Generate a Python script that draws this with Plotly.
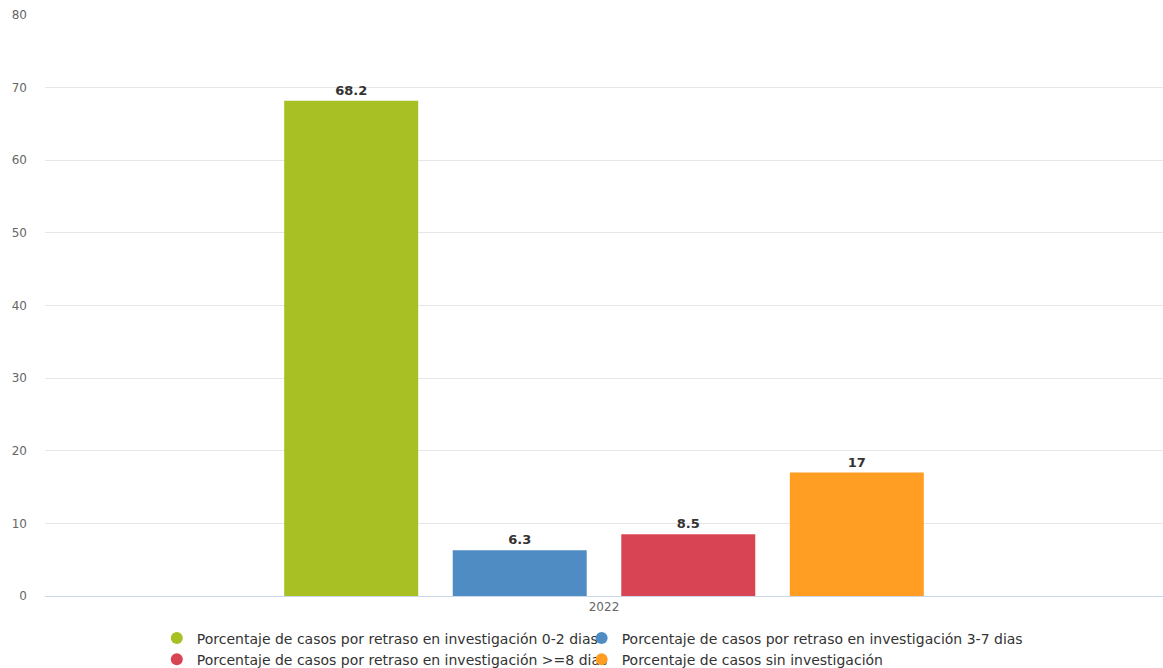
import plotly.graph_objects as go

# Data
categories = ["2022"]
series_names = [
    "Porcentaje de casos por retraso en investigación 0-2 dias",
    "Porcentaje de casos por retraso en investigación 3-7 dias",
    "Porcentaje de casos por retraso en investigación >=8 dias",
    "Porcentaje de casos sin investigación",
]
series_values = [[68.2], [6.3], [8.5], [17]]
series_colors = ["#A8C023", "#508CC4", "#D94454", "#FF9E22"]
legend_column = ["legend", "legend2", "legend", "legend2"]
y_ticks = [0, 10, 20, 30, 40, 50, 60, 70, 80]

FONT = "DejaVu Sans, Verdana, sans-serif"

fig = go.Figure()

for name, vals, color in zip(series_names, series_values, series_colors):
    fig.add_trace(go.Bar(
        x=categories, y=vals, name=name,
        marker=dict(color=color, line=dict(width=0)),
        text=[f"{v:g}" for v in vals],
        textposition="outside",
        textfont=dict(family=FONT, size=13, color="#333333", weight="bold"),
        cliponaxis=False,
        showlegend=False,
    ))

# Circle legend entries, split over two legend columns
for name, color, lg in zip(series_names, series_colors, legend_column):
    fig.add_trace(go.Scatter(
        x=[None], y=[None], mode="markers", name=name,
        marker=dict(color=color, size=12, symbol="circle"),
        showlegend=True, legend=lg,
    ))

legend_style = dict(
    orientation="v", xanchor="left", y=-0.0455, yanchor="top",
    font=dict(family=FONT, size=14, color="#333333"),
    tracegroupgap=0, itemsizing="constant",
    bgcolor="rgba(0,0,0,0)", borderwidth=0,
)

fig.update_layout(
    width=1163, height=668,
    margin=dict(l=45, r=0, t=15, b=72, autoexpand=False),
    paper_bgcolor="white", plot_bgcolor="white",
    barmode="group", bargap=0.397, bargroupgap=0.205,
    font=dict(family=FONT, size=12, color="#666666"),
    legend=dict(x=0.1, **legend_style),
    legend2=dict(x=0.48, **legend_style),
    xaxis=dict(
        showgrid=False, showline=True, linecolor="#CCD6EB", linewidth=1,
        ticks="", tickfont=dict(family=FONT, size=12, color="#666666"),
        fixedrange=True,
    ),
    yaxis=dict(
        range=[0, 80], tickvals=y_ticks, showgrid=True, gridcolor="#E6E6E6",
        gridwidth=1, zeroline=False, showline=False, ticks="",
        ticklabelstandoff=17,
        tickfont=dict(family=FONT, size=12, color="#666666"),
    ),
)

fig.write_html("out.html")
